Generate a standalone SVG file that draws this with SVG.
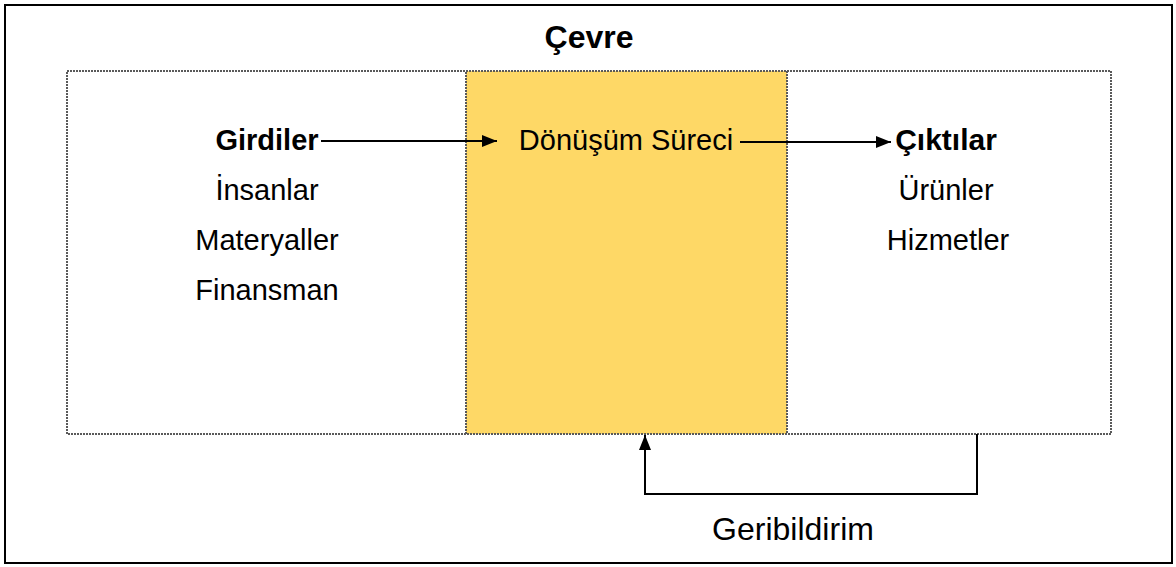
<svg xmlns="http://www.w3.org/2000/svg" width="1176" height="567" viewBox="0 0 1176 567">
  <style>
    .lbl { font-family: "Liberation Sans", Arial, sans-serif; font-size: 29px; fill: #000; text-anchor: middle; }
    .bold { font-weight: bold; }
    .big { font-size: 32px; }
    .frame { fill: none; stroke: #5a5a5a; stroke-width: 2; stroke-dasharray: 2 1; }
    .conn { fill: none; stroke: #000; stroke-width: 2; }
  </style>
  <defs>
    <marker id="arrow" viewBox="0 0 10 10" refX="10" refY="5" markerWidth="15" markerHeight="12" markerUnits="userSpaceOnUse" orient="auto" preserveAspectRatio="none">
      <path d="M0,0 L10,5 L0,10 z" fill="#000"/>
    </marker>
  </defs>
  <rect x="0" y="0" width="1176" height="567" fill="#fff"/>

  <!-- environment boundary -->
  <g id="environment">
    <rect x="5" y="5" width="1167" height="558" fill="none" stroke="#000" stroke-width="2"/>
    <text class="lbl bold big" x="589" y="48">Çevre</text>
  </g>

  <!-- system boundary -->
  <g id="system">
    <rect class="frame" x="67" y="71" width="1044" height="363"/>
  </g>

  <!-- inputs -->
  <g id="inputs">
    <text class="lbl bold" x="267" y="150">Girdiler</text>
    <text class="lbl" x="267" y="200">İnsanlar</text>
    <text class="lbl" x="267" y="250">Materyaller</text>
    <text class="lbl" x="267" y="300">Finansman</text>
  </g>

  <!-- transformation process -->
  <g id="process">
    <rect x="466" y="71" width="321" height="363" fill="#fed866"/>
    <rect class="frame" x="466" y="71" width="321" height="363"/>
    <text class="lbl" x="626" y="150">Dönüşüm Süreci</text>
  </g>

  <!-- outputs -->
  <g id="outputs">
    <text class="lbl bold" x="946" y="150" style="font-size:30px">Çıktılar</text>
    <text class="lbl" x="946" y="200">Ürünler</text>
    <text class="lbl" x="948" y="250">Hizmetler</text>
  </g>

  <!-- feedback label -->
  <g id="feedback">
    <text class="lbl big" x="793" y="540">Geribildirim</text>
  </g>

  <!-- connectors -->
  <g id="connectors">
    <line x1="321" y1="141" x2="497" y2="141" stroke="#000" stroke-width="2" marker-end="url(#arrow)"/>
    <line x1="740" y1="142" x2="891" y2="142" stroke="#000" stroke-width="2" marker-end="url(#arrow)"/>
    <polyline class="conn" points="977,434 977,494 645,494 645,435" marker-end="url(#arrow)"/>
  </g>
</svg>
